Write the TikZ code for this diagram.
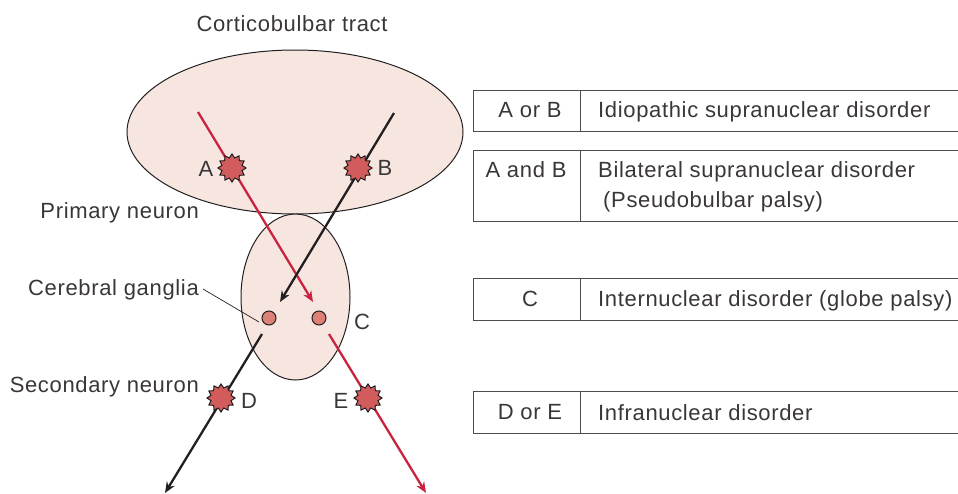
\documentclass[tikz,border=0pt]{standalone}
\usepackage{fontspec}
\setmainfont[LetterSpace=3]{Liberation Sans}
\usetikzlibrary{shapes.geometric,arrows.meta}
\definecolor{tractfill}{HTML}{F7E6E0}
\definecolor{nervered}{HTML}{C8243F}
\definecolor{nerveblack}{HTML}{231F20}
\definecolor{burstfill}{HTML}{D25B5B}
\definecolor{gangfill}{HTML}{DB8175}
\definecolor{inktext}{HTML}{3A3637}
\begin{document}
\begin{tikzpicture}[
    x=1pt, y=-1pt,
    region/.style={draw=nerveblack, line width=1pt, fill=tractfill, ellipse, inner sep=0pt},
    ganglion/.style={draw=nerveblack, line width=1pt, fill=gangfill, circle, minimum size=14pt, inner sep=0pt},
    lesion/.style={draw=nerveblack, line width=1pt, fill=burstfill, star, star points=12, star point ratio=1.35, minimum size=28pt, inner sep=0pt},
    redfibre/.style={-{Stealth[length=11pt,width=9pt]}, line width=2.3pt, nervered},
    blackfibre/.style={-{Stealth[length=11pt,width=9pt]}, line width=2.3pt, nerveblack},
    txt/.style={text=inktext, inner sep=0pt, font=\fontsize{22}{26}\selectfont},
    cell/.style={txt, anchor=west},
    rule/.style={draw=nerveblack!80, line width=0.8pt}
]

\useasboundingbox (0,0) rectangle (958,493);

\node[region, minimum width=336pt, minimum height=164pt] (tract) at (295,132) {};
\node[region, minimum width=109pt, minimum height=166pt] (capsule) at (295.5,297) {};

\node[ganglion] (gl) at (269,318) {};
\node[ganglion] (gr) at (319,318) {};

\coordinate (redtop) at (198,112);
\coordinate (redmid) at (313,302);
\coordinate (blacktop) at (394,113);
\coordinate (blackmid) at (280,302);
\coordinate (blackstart) at (262,334);
\coordinate (blackend) at (165,493);
\coordinate (redstart) at (329,334);
\coordinate (redend) at (426,493);
\coordinate (leaderend) at (259,322);

\draw[redfibre] (redtop) -- (redmid);
\draw[blackfibre] (blacktop) -- (blackmid);
\draw[blackfibre] (blackstart) -- (blackend);
\draw[redfibre] (redstart) -- (redend);

\node[lesion] (la) at (232,168) {};
\node[lesion] (lb) at (358,168) {};
\node[lesion] (ld) at (221,398) {};
\node[lesion] (le) at (368,398) {};

\node[txt] (ta) at (206,169) {A};
\node[txt] (tb) at (385,168) {B};
\node[txt] (tc) at (362,322) {C};
\node[txt] (td) at (249,401) {D};
\node[txt] (te) at (341,401) {E};

\node[txt] (title) at (292,24) {Corticobulbar tract};
\node[txt, anchor=east] (primary) at (199,213) {Primary neuron};
\node[txt, anchor=east] (cerebral) at (199,290) {Cerebral ganglia};
\node[txt, anchor=east] (secondary) at (199,387) {Secondary neuron};

\coordinate (leaderstart) at (203,289);
\draw[draw=nerveblack, line width=0.7pt] (leaderstart) -- (leaderend);

\draw[rule] (958,90) -- (473,90) -- (473,131) -- (958,131) (580,90) -- (580,131);
\draw[rule] (958,150) -- (473,150) -- (473,221) -- (958,221) (580,150) -- (580,221);
\draw[rule] (958,278) -- (473,278) -- (473,320) -- (958,320) (580,278) -- (580,320);
\draw[rule] (958,391) -- (473,391) -- (473,433) -- (958,433) (580,391) -- (580,433);

\node[txt] (k1) at (530,110) {A or B};
\node[cell] (v1) at (598,112) {Idiopathic supranuclear disorder};
\node[txt] (k2) at (526,170) {A and B};
\node[cell] (v2) at (598,172) {Bilateral supranuclear disorder};
\node[cell] (v2b) at (603,202) {(Pseudobulbar palsy)};
\node[txt] (k3) at (530,299) {C};
\node[cell] (v3) at (598,301) {Internuclear disorder (globe palsy)};
\node[txt] (k4) at (530,412) {D or E};
\node[cell] (v4) at (598,413) {Infranuclear disorder};

\end{tikzpicture}
\end{document}
